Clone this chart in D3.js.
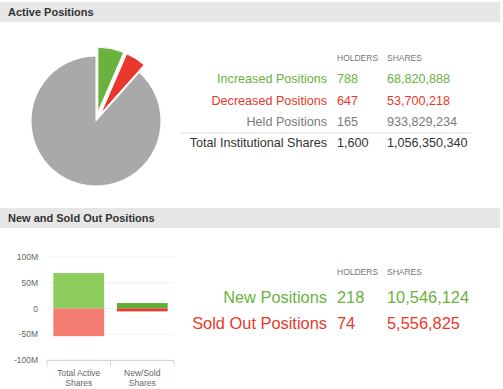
<!DOCTYPE html>
<html>
<head>
<meta charset="utf-8">
<script src="https://cdn.jsdelivr.net/npm/d3@7"></script>
<style>
  body { margin: 0; background: #fff; font-family: "Liberation Sans", Arial, sans-serif; }
</style>
</head>
<body>
<div id="chart"></div>
<script>
// Active positions
const activeLabels = ["Increased Positions", "Decreased Positions", "Held Positions"];
const activeHolders = [788, 647, 165];
const activeShares = [68820888, 53700218, 933829234];
const totalLabel = "Total Institutional Shares";
const totalHolders = 1600;
const totalShares = 1056350340;

// New / sold out
const newSoldLabels = ["New Positions", "Sold Out Positions"];
const newSoldHolders = [218, 74];
const newSoldShares = [10546124, 5556825];

// Bar chart
const barCategories = [["Total Active", "Shares"], ["New/Sold", "Shares"]];
const barPositive = [68820888, 10546124];
const barNegative = [-53700218, -5556825];
const yTicks = [-100e6, -50e6, 0, 50e6, 100e6];

const W = 503, H = 389;
const green = "#6ab23e", red = "#e8382b", gray = "#a9a9a9";
const textColors = [green, red, "#7a7a7a"];
const fmt = d3.format(",");

const svg = d3.select("#chart").append("svg")
    .attr("width", W).attr("height", H)
    .style("font-family", '"Liberation Sans", Arial, sans-serif');

// section headers
function header(y, label) {
    svg.append("rect").attr("x", 0).attr("y", y).attr("width", 500).attr("height", 20).attr("fill", "#e6e6e6");
    svg.append("text").attr("x", 8).attr("y", y + 14)
        .attr("font-size", 11).attr("font-weight", "bold").attr("fill", "#333")
        .text(label);
}
header(2, "Active Positions");
header(208, "New and Sold Out Positions");

// ---- pie ----
const cx = 96, cy = 121, r = 65;
const pie = d3.pie().sort(null).value(d => d)(activeShares);
const arc = d3.arc().innerRadius(0).outerRadius(r);
const pieColors = [green, red, gray];
svg.append("g").attr("transform", `translate(${cx},${cy})`)
    .selectAll("path")
    .data(pie)
    .join("path")
    .attr("d", arc)
    .attr("fill", (d, i) => pieColors[i])
    .attr("stroke", "#fff").attr("stroke-width", 1)
    .attr("transform", (d, i) => {
        if (i > 1) return null;
        const a = (d.startAngle + d.endAngle) / 2;
        return `translate(${9 * Math.sin(a)},${-9 * Math.cos(a)})`;
    });

// ---- table helper ----
function table(opts) {
    const g = svg.append("g");
    if (opts.headY != null) {
        g.append("text").attr("x", opts.colH).attr("y", opts.headY)
            .attr("font-size", 8.5).attr("fill", "#777").text("HOLDERS");
        g.append("text").attr("x", opts.colS).attr("y", opts.headY)
            .attr("font-size", 8.5).attr("fill", "#777").text("SHARES");
    }
    opts.labels.forEach((lab, i) => {
        const y = opts.y0 + i * opts.step;
        const c = opts.colors[i];
        g.append("text").attr("x", opts.labelX).attr("y", y).attr("text-anchor", "end")
            .attr("dy", "0.35em").attr("font-size", opts.fs).attr("fill", c).text(lab);
        g.append("text").attr("x", opts.colH).attr("y", y)
            .attr("dy", "0.35em").attr("font-size", opts.fs).attr("fill", c).text(fmt(opts.holders[i]));
        g.append("text").attr("x", opts.colS).attr("y", y)
            .attr("dy", "0.35em").attr("font-size", opts.fs).attr("fill", c).text(fmt(opts.shares[i]));
    });
    return g;
}

table({
    labels: activeLabels, holders: activeHolders, shares: activeShares, colors: textColors,
    headY: 61, y0: 79, step: 21.3, fs: 12.6, labelX: 327, colH: 337, colS: 387
});
svg.append("line").attr("x1", 180).attr("x2", 472).attr("y1", 133).attr("y2", 133)
    .attr("stroke", "#ddd");
table({
    labels: [totalLabel], holders: [totalHolders], shares: [totalShares], colors: ["#333"],
    headY: null, y0: 143, step: 0, fs: 12.6, labelX: 327, colH: 337, colS: 387
});

table({
    labels: newSoldLabels, holders: newSoldHolders, shares: newSoldShares, colors: [green, red],
    headY: 275, y0: 297, step: 26, fs: 16.4, labelX: 327, colH: 337, colS: 387
});

// ---- bar chart ----
const x = d3.scaleBand().domain(d3.range(barCategories.length)).range([47, 174]).paddingInner(0.2).paddingOuter(0.1);
const y = d3.scaleLinear().domain([-100e6, 100e6]).range([360, 257]);

const bc = svg.append("g");
bc.selectAll("line.grid").data(yTicks).join("line")
    .attr("x1", 47).attr("x2", 174)
    .attr("y1", d => y(d)).attr("y2", d => y(d))
    .attr("stroke", "#eef0f4").attr("stroke-width", 1);

const yAxis = d3.axisLeft(y).tickValues(yTicks).tickSize(0)
    .tickFormat(d => d === 0 ? "0" : (d / 1e6) + "M");
bc.append("g").attr("transform", "translate(38,0)").call(yAxis)
    .call(g => g.select(".domain").remove())
    .call(g => g.selectAll("text").attr("font-size", 8.5).attr("fill", "#666")
        .attr("font-family", '"Liberation Sans", Arial, sans-serif').attr("x", 0));

const posColors = ["#8dcc5c", "#5fae35"];
const negColors = ["#f47b6f", "#e8382b"];
bc.selectAll("rect.pos").data(barPositive).join("rect")
    .attr("x", (d, i) => x(i)).attr("width", x.bandwidth())
    .attr("y", d => y(d)).attr("height", d => y(0) - y(d))
    .attr("fill", (d, i) => posColors[i]);
bc.selectAll("rect.neg").data(barNegative).join("rect")
    .attr("x", (d, i) => x(i)).attr("width", x.bandwidth())
    .attr("y", y(0)).attr("height", d => y(d) - y(0))
    .attr("fill", (d, i) => negColors[i]);

// x axis
bc.append("line").attr("x1", 47).attr("x2", 174).attr("y1", 360.5).attr("y2", 360.5).attr("stroke", "#ccd6eb");
const tickX = [47, 47 + 63.5, 174];
bc.selectAll("line.tick").data(tickX).join("line")
    .attr("x1", d => d).attr("x2", d => d).attr("y1", 360).attr("y2", 366)
    .attr("stroke", "#ccd6eb");
barCategories.forEach((lines, i) => {
    const t = bc.append("text").attr("text-anchor", "middle")
        .attr("font-size", 8.5).attr("fill", "#666");
    lines.forEach((ln, j) => {
        t.append("tspan").attr("x", 47 + 63.5 * i + 31.75).attr("y", 376 + j * 10).text(ln);
    });
});
</script>
</body>
</html>
